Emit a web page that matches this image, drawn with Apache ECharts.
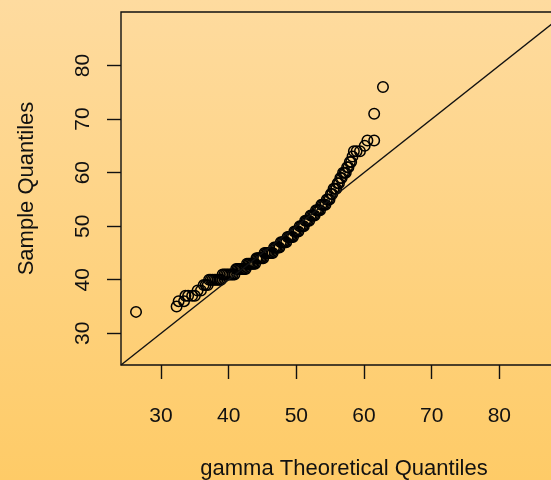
<!DOCTYPE html>
<html>
<head>
<meta charset="utf-8">
<script src="https://cdn.jsdelivr.net/npm/echarts@6/dist/echarts.min.js"></script>
<style>
  html, body { margin: 0; padding: 0; }
  #container { width: 551px; height: 480px; }
</style>
</head>
<body>
<div id="container"></div>
<script>
// gamma theoretical quantiles (x) and sorted sample (y)
// the sample looks integer valued, so ties show as short horizontal runs
var theoretical = [
  26.3, 32.3, 32.6, 33.4, 33.6, 34.0, 34.6, 35.0, 35.4, 35.9, 36.3, 36.6, 36.9,
  37.1, 37.35, 37.6, 37.85, 38.1, 38.35, 38.6, 38.85,
  39.1, 39.35, 39.6, 39.85, 40.1, 40.35, 40.6, 40.85,
  41.1, 41.3, 41.5, 41.7, 41.9, 42.1, 42.3, 42.5,
  42.7, 42.9, 43.1, 43.3, 43.5, 43.7, 43.9,
  44.1, 44.3, 44.5, 44.7, 44.9, 45.1,
  45.3, 45.5, 45.7, 45.9, 46.1, 46.3, 46.5,
  46.7, 46.9, 47.1, 47.3, 47.5,
  47.7, 47.9, 48.1, 48.3, 48.5,
  48.7, 48.9, 49.1, 49.3, 49.5,
  49.7, 49.9, 50.1, 50.3,
  50.5, 50.7, 50.9, 51.1,
  51.3, 51.5, 51.7, 51.9,
  52.1, 52.3, 52.5, 52.7,
  52.9, 53.1, 53.3, 53.5,
  53.7, 53.9, 54.1, 54.3,
  54.5, 54.7, 54.9,
  55.1, 55.3,
  55.5, 55.7, 55.9,
  56.1, 56.3,
  56.5, 56.7,
  56.9, 57.1, 57.3,
  57.5, 57.7,
  57.9, 58.1,
  58.3, 58.5, 58.9, 59.4, 60.1, 60.5, 61.5, 61.5, 62.8
];
var sample = [
  34, 35, 36, 36, 37, 37, 37, 37, 38, 38, 39, 39, 39,
  40, 40, 40, 40, 40, 40, 40, 40,
  41, 41, 41, 41, 41, 41, 41, 41,
  42, 42, 42, 42, 42, 42, 42, 42,
  43, 43, 43, 43, 43, 43, 43,
  44, 44, 44, 44, 44, 44,
  45, 45, 45, 45, 45, 45, 45,
  46, 46, 46, 46, 46,
  47, 47, 47, 47, 47,
  48, 48, 48, 48, 48,
  49, 49, 49, 49,
  50, 50, 50, 50,
  51, 51, 51, 51,
  52, 52, 52, 52,
  53, 53, 53, 53,
  54, 54, 54, 54,
  55, 55, 55,
  56, 56,
  57, 57, 57,
  58, 58,
  59, 59,
  60, 60, 60,
  61, 61,
  62, 62,
  63, 64, 64, 64, 65, 66, 66, 71, 76
];
var tickValues = [30, 40, 50, 60, 70, 80];
var axisMin = 24.08;
var axisMax = 90;

var points = theoretical.map(function (x, i) { return [x, sample[i]]; });

var myChart = echarts.init(document.getElementById('container'));
var font = 'Liberation Sans, Arial, sans-serif';

myChart.setOption({
  animation: false,
  backgroundColor: new echarts.graphic.LinearGradient(0, 0, 0, 1, [
    { offset: 0, color: '#fedb9f' },
    { offset: 1, color: '#fecb67' }
  ]),
  grid: {
    left: 121, top: 12, width: 446, height: 353,
    outerBoundsMode: 'none',
    containLabel: false,
    show: true, borderColor: '#111', borderWidth: 1.4,
    backgroundColor: 'transparent'
  },
  xAxis: {
    type: 'value', min: axisMin, max: axisMax,
    name: 'gamma Theoretical Quantiles',
    nameLocation: 'middle', nameGap: 93,
    nameTextStyle: { color: '#111', fontSize: 22, fontFamily: font },
    axisLine: { show: false },
    axisTick: { show: true, inside: false, length: 14, customValues: tickValues,
      lineStyle: { color: '#111', width: 1.4 } },
    axisLabel: { customValues: tickValues, margin: 41, color: '#111', fontSize: 21, fontFamily: font },
    splitLine: { show: false }
  },
  yAxis: {
    type: 'value', min: axisMin, max: axisMax,
    name: 'Sample Quantiles',
    nameLocation: 'middle', nameGap: 83,
    nameTextStyle: { color: '#111', fontSize: 22, fontFamily: font },
    axisLine: { show: false },
    axisTick: { show: true, inside: false, length: 14, customValues: tickValues,
      lineStyle: { color: '#111', width: 1.4 } },
    axisLabel: { customValues: tickValues, rotate: 90, margin: 27, color: '#111', fontSize: 21, fontFamily: font },
    splitLine: { show: false }
  },
  series: [
    {
      type: 'scatter',
      data: points,
      symbol: 'circle',
      symbolSize: 10.5,
      itemStyle: { color: 'rgba(0,0,0,0)', borderColor: '#000', borderWidth: 1.5, opacity: 1 },
      silent: true
    },
    {
      type: 'line',
      data: [[axisMin, axisMin], [axisMax, axisMax]],
      symbol: 'none',
      lineStyle: { color: '#111', width: 1.4 },
      silent: true
    }
  ]
});
</script>
</body>
</html>
